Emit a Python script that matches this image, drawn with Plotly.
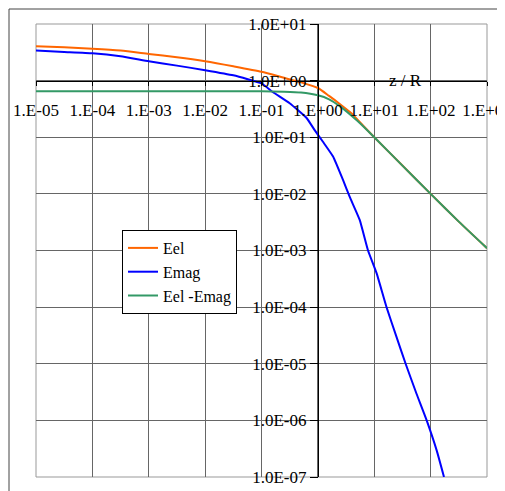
import plotly.graph_objects as go

# ---- data ----
eel_x = [1e-5, 3.16e-5, 1e-4, 3.16e-4, 1e-3, 3.16e-3, 1e-2, 3.16e-2, 0.1, 0.251, 0.501, 1.0,
         1.58, 2.51, 3.98, 5.01, 10.0, 31.6, 100.0, 316.0, 1000.0]
eel_y = [4.03, 3.89, 3.67, 3.39, 2.96, 2.59, 2.20, 1.79, 1.43, 1.12, 0.933, 0.741,
         0.537, 0.380, 0.263, 0.206, 0.1, 0.0316, 0.0100, 0.00324, 0.00110]

emag_x = [1e-5, 3.16e-5, 1e-4, 3.16e-4, 1e-3, 3.16e-3, 1e-2, 3.16e-2, 0.1, 0.158, 0.316,
          0.631, 0.871, 1.23, 1.86, 2.79, 3.66, 5.52, 7.76, 11.0, 16.5, 24.8, 36.3, 56.2,
          85.1, 128.0, 172.6]
emag_y = [3.39, 3.21, 3.05, 2.70, 2.20, 1.84, 1.53, 1.24, 0.891, 0.631, 0.398,
          0.219, 0.135, 0.0832, 0.0457, 0.0176, 0.00891, 0.00347, 0.00100, 0.000398,
          0.000100, 2.98e-5, 9.8e-6, 2.95e-6, 1.0e-6, 2.95e-7, 1.0e-7]

diff_x = [1e-5, 1e-4, 1e-3, 1e-2, 0.1, 0.251, 0.501, 1.0, 1.58, 2.51, 5.01, 10.0,
          31.6, 100.0, 316.0, 1000.0]
diff_y = [0.650, 0.650, 0.650, 0.649, 0.646, 0.637, 0.616, 0.550, 0.468, 0.347, 0.195, 0.1,
          0.0316, 0.0100, 0.00324, 0.00110]

x_ticks = [1e-5, 1e-4, 1e-3, 1e-2, 1e-1, 1e0, 1e1, 1e2, 1e3]
x_tick_text = ["1.E-05", "1.E-04", "1.E-03", "1.E-02", "1.E-01", "1.E+00", "1.E+01", "1.E+02", "1.E+03"]
y_ticks = [1e1, 1e0, 1e-1, 1e-2, 1e-3, 1e-4, 1e-5, 1e-6, 1e-7]
y_tick_text = ["1.0E+01", "1.0E+00", "1.0E-01", "1.0E-02", "1.0E-03", "1.0E-04", "1.0E-05", "1.0E-06", "1.0E-07"]

FONT = "Liberation Serif, Times New Roman, serif"
FS = 17

fig = go.Figure()
fig.add_trace(go.Scatter(x=eel_x, y=eel_y, mode="lines", name="Eel", legendgroup="a",
                         line=dict(color="#FF6600", width=2, shape="spline", smoothing=0.6)))
fig.add_trace(go.Scatter(x=emag_x, y=emag_y, mode="lines", name="Emag", legendgroup="b",
                         line=dict(color="#0000FF", width=2, shape="spline", smoothing=0.4)))
fig.add_trace(go.Scatter(x=diff_x, y=diff_y, mode="lines", name="Eel -Emag", legendgroup="c",
                         line=dict(color="#339966", width=2, shape="spline", smoothing=0.6)))

# page has an 8px body margin; plot area on the page spans x 36..487, y 24..477
OFF = 8
W, H = 505 - OFF, 491 - OFF
L, R, T, B = 36 - OFF, 505 - 487, 24 - OFF, 491 - 477
pw, ph = W - L - R, H - T - B

def px2x(px):
    return (px - 36) / pw

def py2y(py):
    return (477 - py) / ph

fig.update_layout(
    width=W, height=H, autosize=False,
    margin=dict(l=L, r=R, t=T, b=B, pad=0, autoexpand=False),
    paper_bgcolor="white", plot_bgcolor="white",
    font=dict(family=FONT, size=FS, color="black"),
    xaxis=dict(type="log", range=[-5, 3], tickvals=x_ticks, ticktext=x_tick_text,
               showgrid=True, gridcolor="#666666", gridwidth=1,
               showline=True, linecolor="black", linewidth=1,
               ticks="outside", ticklen=4, tickcolor="black",
               ticklabelstandoff=10, ticklabeloverflow="allow", automargin=False,
               anchor="free", position=0.875, zeroline=False,
               tickfont=dict(family=FONT, size=FS, color="black")),
    yaxis=dict(type="log", range=[-7, 1], tickvals=y_ticks, ticktext=y_tick_text,
               showgrid=True, gridcolor="#666666", gridwidth=1,
               showline=True, linecolor="black", linewidth=1,
               ticks="outside", ticklen=8, tickcolor="black",
               ticklabeloverflow="allow", automargin=False,
               anchor="free", position=0.625, zeroline=False,
               tickfont=dict(family=FONT, size=FS, color="black")),
    showlegend=True,
    legend=dict(x=px2x(122), y=py2y(230), xanchor="left", yanchor="top",
                bgcolor="white", bordercolor="black", borderwidth=1,
                font=dict(family=FONT, size=16, color="black"),
                tracegroupgap=0, itemwidth=30, traceorder="grouped"),
    shapes=[
        dict(type="rect", xref="paper", yref="paper", x0=0, x1=1, y0=0, y1=1,
             line=dict(color="#999999", width=1), layer="below"),
        dict(type="line", xref="paper", yref="paper", x0=px2x(9), x1=px2x(510),
             y0=py2y(9), y1=py2y(9), line=dict(color="#444444", width=1)),
        dict(type="line", xref="paper", yref="paper", x0=px2x(9), x1=px2x(9),
             y0=py2y(9), y1=py2y(495), line=dict(color="#444444", width=1)),
    ],
    annotations=[
        dict(text="z / R", xref="paper", yref="paper", x=px2x(405), y=py2y(81),
             xanchor="center", yanchor="middle", showarrow=False,
             font=dict(family=FONT, size=FS, color="black")),
    ],
)

fig.write_html("out.html")
